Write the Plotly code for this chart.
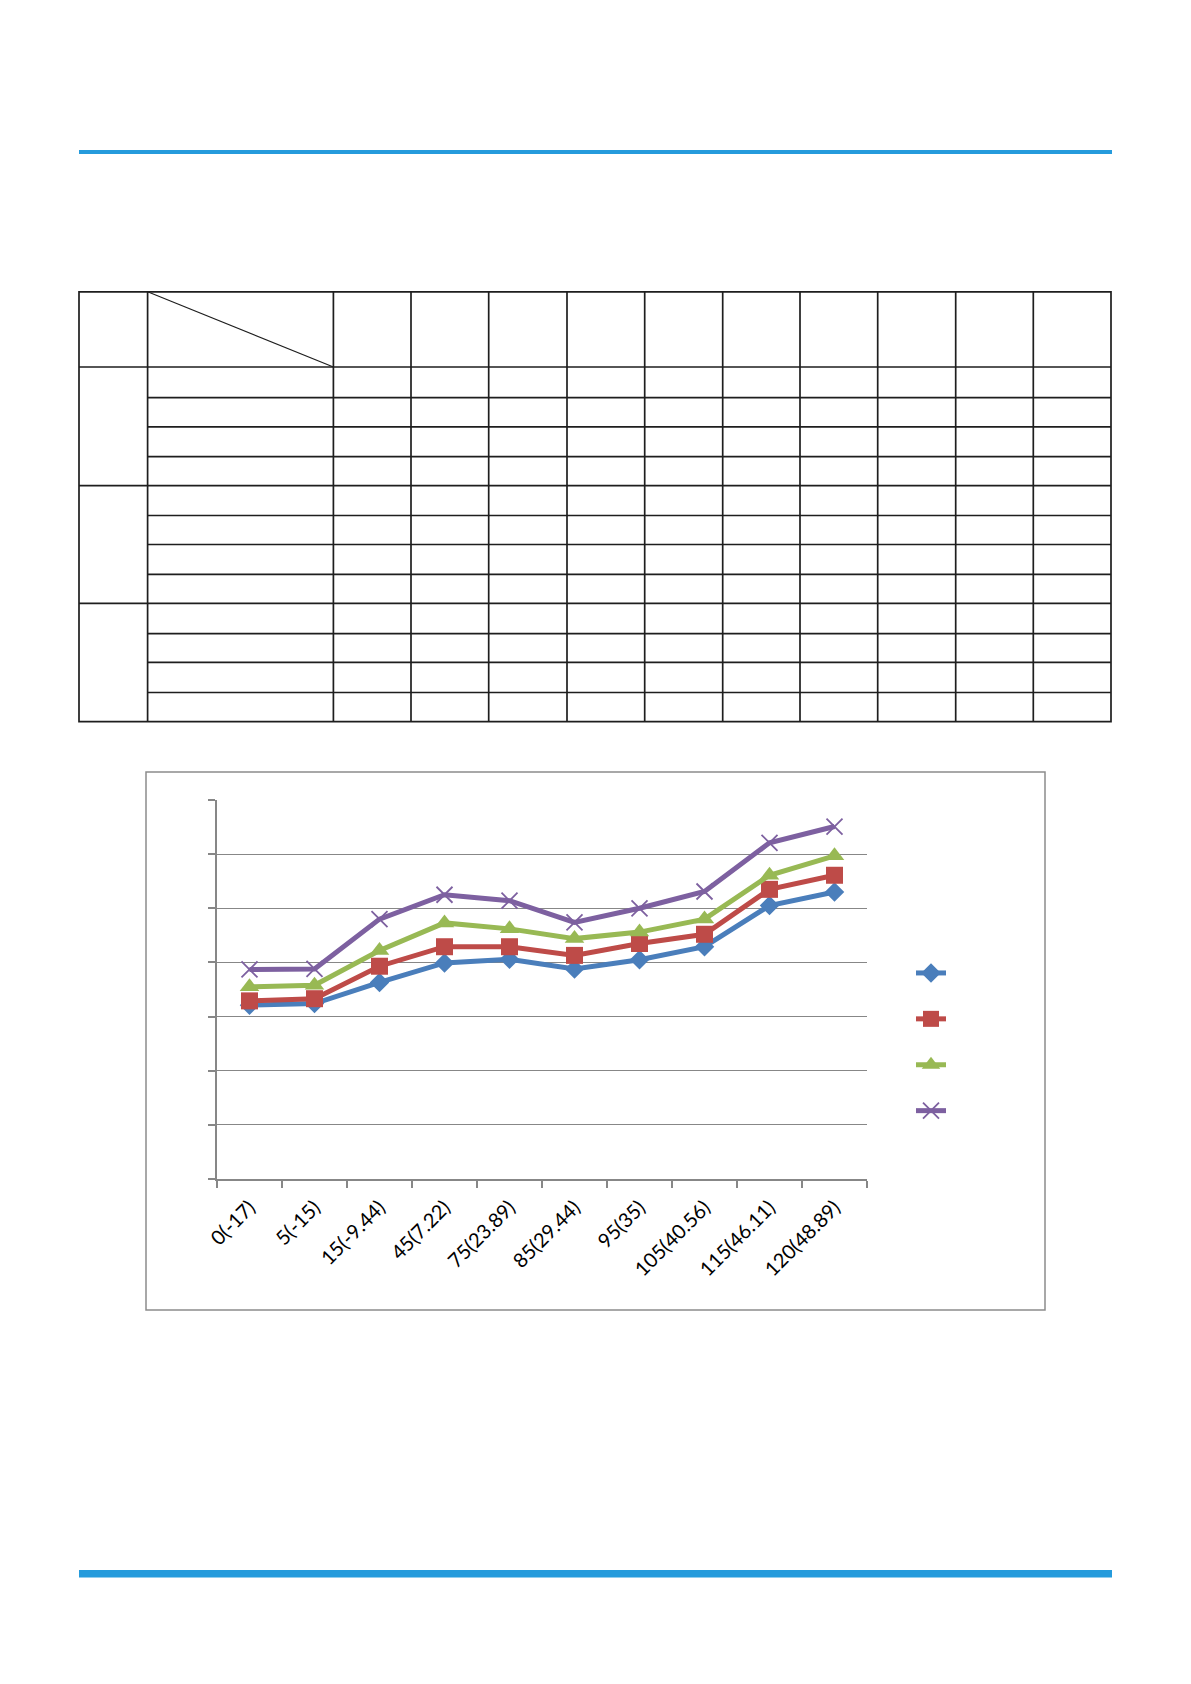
import plotly.graph_objects as go

W, H = 1191, 1684

# ---- data ----
categories = ['0(-17)', '5(-15)', '15(-9.44)', '45(7.22)', '75(23.89)',
              '85(29.44)', '95(35)', '105(40.56)', '115(46.11)', '120(48.89)']
series_1 = [3.21, 3.24, 3.63, 3.99, 4.06, 3.88, 4.05, 4.29, 5.05, 5.30]
series_2 = [3.29, 3.33, 3.93, 4.29, 4.29, 4.13, 4.35, 4.52, 5.35, 5.61]
series_3 = [3.55, 3.58, 4.22, 4.73, 4.62, 4.44, 4.56, 4.80, 5.61, 5.97]
series_4 = [3.87, 3.88, 4.80, 5.25, 5.14, 4.74, 5.00, 5.31, 6.21, 6.51]


def px(x):
    return x / W


def py(y):
    return 1 - y / H


fig = go.Figure()

styles = [
    (series_1, '#4A7EBB', 'diamond', 15, 0),
    (series_2, '#BE4B48', 'square', 17, 0),
    (series_3, '#98B954', 'triangle-up', 17, 0),
    (series_4, '#7D60A0', 'x-thin', 16, 1.8),
]
for vals, color, symbol, size, lw in styles:
    fig.add_trace(go.Scatter(
        x=categories, y=vals, mode='lines+markers', name=' ',
        line=dict(color=color, width=5),
        marker=dict(symbol=symbol, size=size, color=color,
                    line=dict(color=color, width=lw)),
        hoverinfo='skip'))

shapes = []
BLUE = '#259BDC'
# page rules
shapes.append(dict(type='rect', xref='paper', yref='paper', x0=px(79), x1=px(1112),
                   y0=py(150), y1=py(154), fillcolor=BLUE, line=dict(width=0)))
shapes.append(dict(type='rect', xref='paper', yref='paper', x0=px(79), x1=px(1112),
                   y0=py(1570), y1=py(1577.5), fillcolor=BLUE, line=dict(width=0)))

# empty table grid
TL, TR, TT, TB = 79, 1111, 291.8, 721.6
col_full = [147.6, 333.4, 411, 488.7, 567, 644.7, 722.7, 800, 877.7, 955.7, 1033.3]
row_full = [367, 485.6, 603.4]
row_sub = [397.7, 426.8, 456.6, 515.5, 544.5, 574.4, 633.6, 662.3, 692.5]
tline = dict(color='#1E1E1E', width=1.7)


def seg(x0, y0, x1, y1, line):
    return dict(type='line', xref='paper', yref='paper', x0=px(x0), y0=py(y0),
                x1=px(x1), y1=py(y1), line=line)


shapes.append(dict(type='rect', xref='paper', yref='paper', x0=px(TL), x1=px(TR),
                   y0=py(TT), y1=py(TB), line=tline))
for cx in col_full:
    shapes.append(seg(cx, TT, cx, TB, tline))
for ry in row_full:
    shapes.append(seg(TL, ry, TR, ry, tline))
for ry in row_sub:
    shapes.append(seg(147.6, ry, TR, ry, tline))
shapes.append(seg(147.6, TT, 333.4, 367, dict(color='#1E1E1E', width=1.2)))

# chart frame
shapes.append(dict(type='rect', xref='paper', yref='paper', x0=px(146), x1=px(1045),
                   y0=py(772), y1=py(1310), line=dict(color='#8C8C8C', width=1.5)))

AX = '#878787'
fig.update_layout(
    width=W, height=H,
    margin=dict(l=0, r=0, t=0, b=0, autoexpand=False),
    paper_bgcolor='white', plot_bgcolor='white',
    shapes=shapes,
    showlegend=True,
    legend=dict(x=px(911), y=py(945), xanchor='left', yanchor='top',
                font=dict(size=33, family='Lato', color='black'),
                bgcolor='rgba(0,0,0,0)', tracegroupgap=0, itemwidth=30),
    xaxis=dict(domain=[px(217), px(867)], type='category', range=[-0.5, 9.5],
               tickson='boundaries', ticks='outside', ticklen=7, tickcolor=AX,
               tickwidth=1.5, showline=True, linecolor=AX, linewidth=2,
               showgrid=False, zeroline=False, tickangle=-45, automargin=False,
               ticklabelstandoff=7,
               tickfont=dict(family='Lato', size=20, color='black')),
    yaxis=dict(domain=[py(1179), py(800)], range=[0, 7], dtick=1,
               ticks='outside', ticklen=7, tickcolor=AX, tickwidth=1.5,
               showline=True, linecolor=AX, linewidth=2, automargin=False,
               showgrid=True, gridcolor=AX, gridwidth=1.2,
               zeroline=False, showticklabels=False),
    hovermode=False,
)

fig.write_html("out.html", config={'displayModeBar': False},
               post_script="document.body.style.margin='0';")
